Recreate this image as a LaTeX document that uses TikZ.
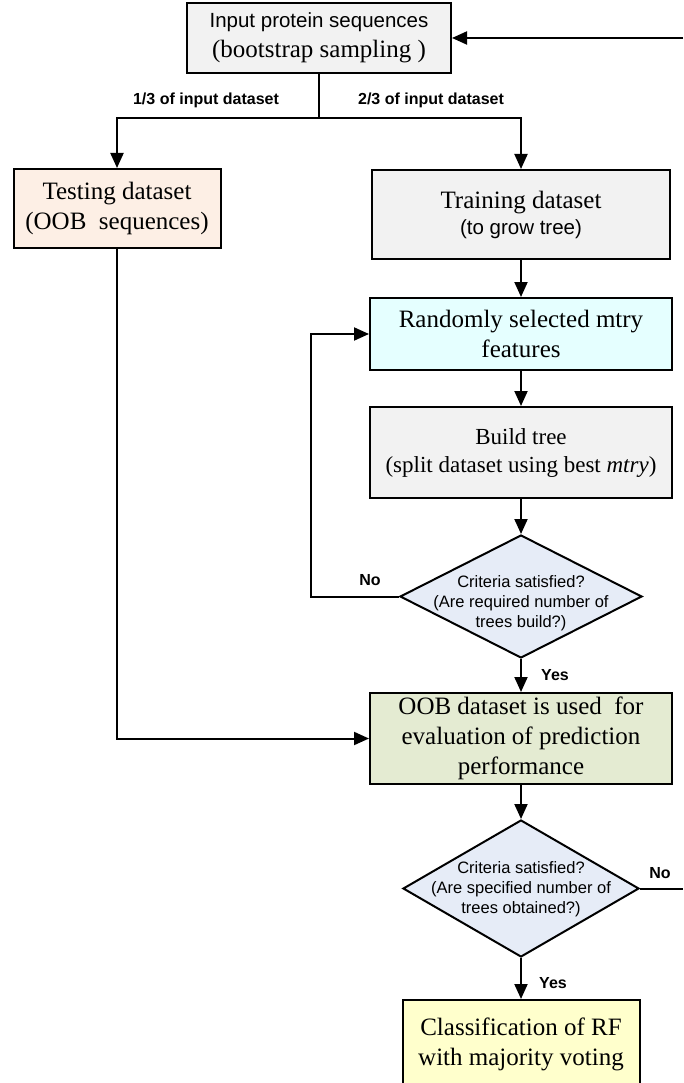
\documentclass[tikz,border=0pt]{standalone}
\usepackage{fontspec}
\setmainfont{Liberation Serif}
\setsansfont{Liberation Sans}
\usetikzlibrary{arrows.meta,shapes.geometric}
\definecolor{boxgray}{RGB}{242,242,242}
\definecolor{peach}{RGB}{253,239,229}
\definecolor{cyanl}{RGB}{229,255,255}
\definecolor{diafill}{RGB}{230,236,247}
\definecolor{olivel}{RGB}{228,235,210}
\definecolor{yell}{RGB}{255,255,204}
\begin{document}
\begin{tikzpicture}[x=1pt,y=-1pt,
 box/.style={draw, line width=2pt, rectangle, inner sep=0pt, align=center, font=\fontsize{25}{30}\selectfont},
 dia/.style={draw, line width=2pt, diamond, inner sep=0pt, fill=diafill},
 diatext/.style={align=center, font=\sffamily\fontsize{16.5}{20}\selectfont, inner sep=0pt},
 lbl/.style={font=\sffamily\bfseries\fontsize{16}{18}\selectfont, inner sep=0pt},
 arr/.style={line width=2pt, -{Triangle[length=15pt,width=13pt]}},
 ln/.style={line width=2pt}
]
\useasboundingbox (0,0) rectangle (683,1083);
\clip (0,0) rectangle (683,1083);

% nodes
\node[box, fill=boxgray, minimum width=264pt, minimum height=70pt] (inp) at (319,38)
  {{\sffamily\fontsize{20.5}{30}\selectfont Input protein sequences}\\(bootstrap sampling )};
\node[box, fill=peach, minimum width=207pt, minimum height=79pt] (test) at (117,208.5)
  {Testing dataset\\(OOB\ \ sequences)};
\node[box, fill=boxgray, minimum width=298pt, minimum height=89pt, font=\fontsize{25}{26}\selectfont] (train) at (521,214.5)
  {Training dataset\\{\sffamily\fontsize{20.5}{26}\selectfont (to grow tree)}};
\node[box, fill=cyanl, minimum width=302pt, minimum height=72pt] (rand) at (521,334)
  {Randomly selected mtry\\features};
\node[box, fill=boxgray, minimum width=302pt, minimum height=91pt, font=\fontsize{23}{28}\selectfont] (build) at (521,452.5)
  {Build tree\\(split dataset using best \textit{mtry})};
\node[dia, minimum width=242pt, minimum height=123pt] (d1) at (521,596.5) {};
\node[diatext] (d1t) at (521,603) {Criteria satisfied?\\(Are required number of\\trees build?)};
\node[box, fill=olivel, minimum width=302pt, minimum height=91pt] (oob) at (521,738.5)
  {OOB dataset is used\ \ for\\evaluation of prediction\\performance};
\node[dia, minimum width=236pt, minimum height=137pt] (d2) at (521,888.5) {};
\node[diatext] (d2t) at (521,889) {Criteria satisfied?\\(Are specified number of\\trees obtained?)};
\node[box, fill=yell, minimum width=237pt, minimum height=88pt, anchor=north] (cls) at (521,999)
  {Classification of RF\\with majority voting};

% labels
\node[lbl] (l13) at (206,100) {1/3 of input dataset};
\node[lbl] (l23) at (431,100) {2/3 of input dataset};
\node[lbl] (no1) at (370,580) {No};
\node[lbl] (yes1) at (555,675) {Yes};
\node[lbl] (no2) at (660,873) {No};
\node[lbl] (yes2) at (553,983) {Yes};

% coordinates
\coordinate (split) at (319,118);
\coordinate (loopx) at (311,0);
\coordinate (edgeA) at (683,38);
\coordinate (edgeB) at (683,888.5);

% connectors
\draw[arr] (edgeA) -- (inp.east);
\draw[ln] (inp.south) -- (split);
\draw[arr] (split) -| (test.north);
\draw[arr] (split) -| (train.north);
\draw[arr] (train.south) -- (rand.north);
\draw[arr] (rand.south) -- (build.north);
\draw[arr] (build.south) -- (d1.north);
\draw[arr] (d1.west) -- (d1.west -| loopx) |- (rand.west);
\draw[arr] (d1.south) -- (oob.north);
\draw[arr] (test.south) |- (oob.west);
\draw[arr] (oob.south) -- (d2.north);
\draw[ln] (d2.east) -- (edgeB);
\draw[arr] (d2.south) -- (cls.north);
\end{tikzpicture}
\end{document}
